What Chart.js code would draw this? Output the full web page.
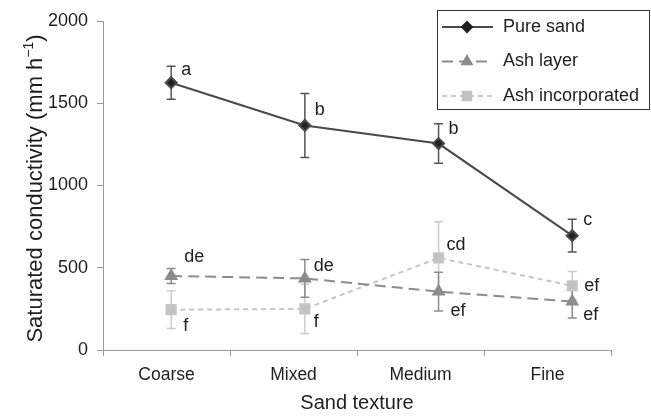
<!DOCTYPE html>
<html>
<head>
<meta charset="utf-8">
<script src="https://cdn.jsdelivr.net/npm/chart.js@4/dist/chart.umd.min.js"></script>
<style>
  body { margin: 0; background: #fff; }
  #wrap { width: 651px; height: 417px; }
</style>
</head>
<body>
<div id="wrap"><canvas id="myChart" width="651" height="417"></canvas></div>
<script>
let categories = ['Coarse', 'Mixed', 'Medium', 'Fine'];

let pure_sand = [1625, 1365, 1255, 695];
let pure_sand_err = [100, 195, 120, 100];
let pure_sand_letters = ['a', 'b', 'b', 'c'];

let ash_layer = [450, 435, 355, 295];
let ash_layer_err = [45, 115, 118, 100];
let ash_layer_letters = ['de', 'de', 'ef', 'ef'];

let ash_incorp = [245, 250, 560, 390];
let ash_incorp_err = [115, 150, 220, 87];
let ash_incorp_letters = ['f', 'f', 'cd', 'ef'];

let y_ticks = [0, 500, 1000, 1500, 2000];
let y_title = 'Saturated conductivity (mm h';
let y_title_sup = '\u22121';

const FONT = "'Liberation Sans', Arial, Helvetica, sans-serif";
const TEXT = '#1e1e1e';

function toPoints(arr) {
  return arr.map(function(v, i) { return {x: i, y: v}; });
}

let data = {
  datasets: [{
    label: 'Pure sand',
    data: toPoints(pure_sand),
    err: pure_sand_err,
    letters: pure_sand_letters,
    letterOffsets: [[10, -13], [10, -15], [10, -15], [11, -16]],
    borderColor: '#4a4a4a',
    backgroundColor: '#222',
    borderWidth: 2,
    pointStyle: 'rectRot',
    pointRadius: 5.5,
    errColor: '#555',
    xAxisID: 'xp'
  }, {
    label: 'Ash layer',
    data: toPoints(ash_layer),
    err: ash_layer_err,
    letters: ash_layer_letters,
    letterOffsets: [[13, -19], [9, -12], [12, 19], [11, 14]],
    borderColor: '#8c8c8c',
    backgroundColor: '#8c8c8c',
    borderWidth: 2,
    borderDash: [11, 6],
    pointStyle: 'triangle',
    pointRadius: 6,
    errColor: '#8c8c8c',
    xAxisID: 'xp'
  }, {
    label: 'Ash incorporated',
    data: toPoints(ash_incorp),
    err: ash_incorp_err,
    letters: ash_incorp_letters,
    letterOffsets: [[12, 16], [9, 13], [8, -13], [12, 0]],
    borderColor: '#c6c6c6',
    backgroundColor: '#c2c2c2',
    borderWidth: 2,
    borderDash: [5, 4],
    pointStyle: 'rect',
    pointRadius: 6.5,
    errColor: '#cccccc',
    xAxisID: 'xp'
  }]
};

// error bars drawn behind the markers
const errorBars = {
  id: 'errorBars',
  beforeDatasetsDraw(chart) {
    const ctx = chart.ctx;
    const ys = chart.scales.y;
    ctx.save();
    for (let d = chart.data.datasets.length - 1; d >= 0; d--) {
      const ds = chart.data.datasets[d];
      const meta = chart.getDatasetMeta(d);
      ctx.strokeStyle = ds.errColor;
      ctx.lineWidth = 1.5;
      meta.data.forEach(function(pt, i) {
        const v = ds.data[i].y;
        const top = ys.getPixelForValue(v + ds.err[i]);
        const bot = ys.getPixelForValue(v - ds.err[i]);
        ctx.beginPath();
        ctx.moveTo(pt.x, top); ctx.lineTo(pt.x, bot);
        ctx.moveTo(pt.x - 4.5, top); ctx.lineTo(pt.x + 4.5, top);
        ctx.moveTo(pt.x - 4.5, bot); ctx.lineTo(pt.x + 4.5, bot);
        ctx.stroke();
      });
    }
    ctx.restore();
  }
};

// significance letters next to each point
const letterLabels = {
  id: 'letterLabels',
  afterDatasetsDraw(chart) {
    const ctx = chart.ctx;
    ctx.save();
    ctx.font = '18px ' + FONT;
    ctx.fillStyle = TEXT;
    ctx.textAlign = 'left';
    ctx.textBaseline = 'middle';
    chart.data.datasets.forEach(function(ds, d) {
      const meta = chart.getDatasetMeta(d);
      meta.data.forEach(function(pt, i) {
        const off = ds.letterOffsets[i];
        ctx.fillText(ds.letters[i], pt.x + off[0], pt.y + off[1]);
      });
    });
    ctx.restore();
  }
};

// y axis title with a real superscript
const yTitle = {
  id: 'yTitle',
  afterDraw(chart) {
    const ctx = chart.ctx;
    const area = chart.chartArea;
    ctx.save();
    ctx.font = '22px ' + FONT;
    const w1 = ctx.measureText(y_title).width;
    ctx.font = '14px ' + FONT;
    const w2 = ctx.measureText(y_title_sup).width;
    ctx.font = '22px ' + FONT;
    const w3 = ctx.measureText(')').width;
    const total = w1 + w2 + w3;
    ctx.translate(42, (area.top + area.bottom) / 2 + 3);
    ctx.rotate(-Math.PI / 2);
    ctx.fillStyle = TEXT;
    ctx.textAlign = 'left';
    ctx.textBaseline = 'alphabetic';
    let x = -total / 2;
    ctx.fillText(y_title, x, 0);
    x += w1;
    ctx.font = '14px ' + FONT;
    ctx.fillText(y_title_sup, x, -9);
    x += w2;
    ctx.font = '22px ' + FONT;
    ctx.fillText(')', x, 0);
    ctx.restore();
  }
};

// boxed legend in the top right corner
const legendBox = {
  id: 'legendBox',
  afterDraw(chart) {
    const ctx = chart.ctx;
    const x0 = chart.width - 214, y0 = 10, w = 213, h = 100;
    ctx.save();
    ctx.fillStyle = '#fff';
    ctx.fillRect(x0, y0, w, h);
    ctx.strokeStyle = '#333';
    ctx.lineWidth = 1;
    ctx.strokeRect(x0 + 0.5, y0 + 0.5, w - 1, h - 1);
    chart.data.datasets.forEach(function(ds, i) {
      const y = y0 + 17 + i * 34.5;
      ctx.strokeStyle = ds.borderColor;
      ctx.lineWidth = ds.borderWidth;
      ctx.setLineDash(ds.borderDash || []);
      ctx.beginPath();
      ctx.moveTo(x0 + 5, y); ctx.lineTo(x0 + 56, y);
      ctx.stroke();
      ctx.setLineDash([]);
      ctx.fillStyle = ds.backgroundColor;
      ctx.strokeStyle = ds.backgroundColor;
      Chart.helpers.drawPoint(ctx, {pointStyle: ds.pointStyle, radius: ds.pointRadius - 0.5, borderWidth: 1, rotation: 0}, x0 + 30, y);
      ctx.fillStyle = TEXT;
      ctx.font = '18px ' + FONT;
      ctx.textAlign = 'left';
      ctx.textBaseline = 'middle';
      ctx.fillText(ds.label, x0 + 66, y);
    });
    ctx.restore();
  }
};

let config = {
  type: 'line',
  data: data,
  plugins: [errorBars, letterLabels, yTitle, legendBox],
  options: {
    responsive: false,
    animation: false,
    layout: { padding: { left: 0, right: 40, top: 21, bottom: 0 } },
    plugins: { legend: { display: false }, tooltip: { enabled: false } },
    scales: {
      xp: {
        type: 'linear',
        display: false,
        min: -0.51,
        max: 3.29
      },
      x: {
        type: 'category',
        labels: categories,
        offset: true,
        position: 'bottom',
        afterFit: function(scale) { scale.height = 67; },
        border: { color: '#999', width: 1 },
        grid: { offset: true, drawOnChartArea: false, color: '#999', tickLength: 6 },
        ticks: { color: TEXT, font: { family: FONT, size: 17.5 }, padding: 9 },
        title: {
          display: true,
          text: 'Sand texture',
          color: TEXT,
          font: { family: FONT, size: 20 },
          padding: { top: 0, bottom: 2 }
        }
      },
      y: {
        min: 0,
        max: 2000,
        afterFit: function(scale) { scale.width = 103; },
        afterBuildTicks: function(scale) {
          scale.ticks = y_ticks.map(function(v) { return {value: v}; });
        },
        border: { color: '#999', width: 1 },
        grid: { drawOnChartArea: false, color: '#999', tickLength: 6 },
        ticks: {
          color: TEXT,
          font: { family: FONT, size: 18 },
          padding: 9,
          callback: function(v) { return String(v); }
        }
      }
    }
  }
};

let myChart = new Chart(document.getElementById('myChart'), config);
</script>
</body>
</html>
